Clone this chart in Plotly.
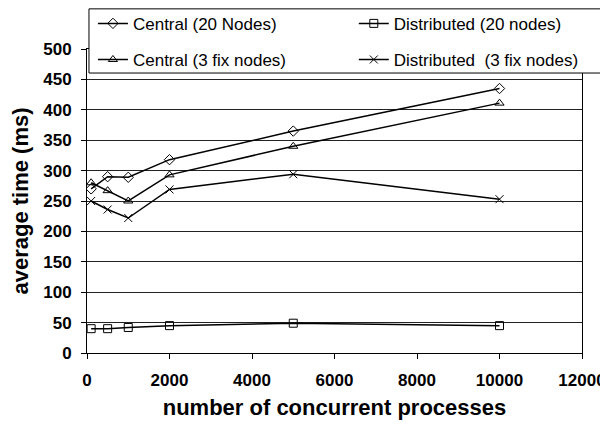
import plotly.graph_objects as go

x_vals = [100, 500, 1000, 2000, 5000, 10000]
central_20 = [270, 290, 289, 318, 365, 435]
distributed_20 = [40, 40, 42, 45, 49, 45]
central_3 = [280, 267, 250, 293, 340, 411]
distributed_3 = [250, 236, 222, 269, 294, 253]

x_ticks = [0, 2000, 4000, 6000, 8000, 10000, 12000]
x_tick_labels = ["0", "2000", "4000", "6000", "8000", "10000", "12000"]
y_ticks = [0, 50, 100, 150, 200, 250, 300, 350, 400, 450, 500]

series = [
    ("Central (20 Nodes)", central_20, "diamond-open", "legend", "g1"),
    ("Distributed (20 nodes)", distributed_20, "square-open", "legend2", "g1"),
    ("Central (3 fix nodes)", central_3, "triangle-up-open", "legend", "g2"),
    ("Distributed  (3 fix nodes)", distributed_3, "x-thin-open", "legend2", "g2"),
]

fig = go.Figure()
for name, vals, sym, leg, grp in series:
    fig.add_trace(go.Scatter(
        x=x_vals, y=vals, name=name, mode="lines+markers",
        legend=leg, legendgroup=grp,
        line=dict(color="black", width=1.5),
        marker=dict(symbol=sym, size=8, color="black",
                    line=dict(color="black", width=1)),
    ))

font = "Liberation Sans, Arial, sans-serif"
leg_common = dict(
    orientation="v", xanchor="left", yanchor="top",
    bgcolor="rgba(0,0,0,0)", borderwidth=0,
    font=dict(size=17, family=font, color="black"),
    tracegroupgap=11,
)

# legend frame
fig.add_shape(type="rect", xref="paper", yref="paper",
              x0=0.004, x1=1.093, y0=0.921, y1=1.132,
              fillcolor="white", line=dict(color="black", width=1),
              layer="above")

fig.update_layout(
    width=608, height=424,
    margin=dict(l=79, r=34, t=41, b=79, autoexpand=False),
    paper_bgcolor="white", plot_bgcolor="white",
    font=dict(family=font, color="black"),
    showlegend=True,
    legend=dict(x=0.012, y=1.142, **leg_common),
    legend2=dict(x=0.539, y=1.142, **leg_common),
    xaxis=dict(
        range=[0, 12000], tickvals=x_ticks, ticktext=x_tick_labels,
        ticks="outside", ticklen=5, automargin=False, ticklabelstandoff=7,
        tickcolor="black", showline=True, linecolor="black", mirror=True,
        showgrid=False, zeroline=False,
        tickfont=dict(size=17, family=font, weight="bold"),
        title=dict(text="number of concurrent processes",
                   font=dict(size=22, family=font, weight="bold"), standoff=10),
    ),
    yaxis=dict(
        range=[0, 500], tickvals=y_ticks, ticks="outside", ticklen=5,
        automargin=False, ticklabelstandoff=6,
        tickcolor="black", showline=True, linecolor="black", mirror=True,
        showgrid=True, gridcolor="#222222", gridwidth=1, zeroline=False,
        tickfont=dict(size=17, family=font, weight="bold"),
        title=dict(text="average time (ms)",
                   font=dict(size=22, family=font, weight="bold"), standoff=10),
    ),
)

fig.write_html("out.html")
